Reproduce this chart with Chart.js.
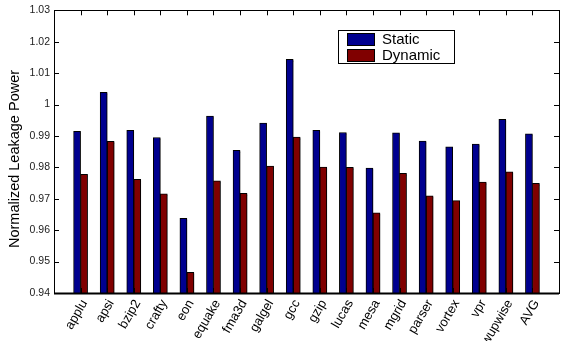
<!DOCTYPE html>
<html>
<head>
<meta charset="utf-8">
<script src="https://cdn.jsdelivr.net/npm/chart.js@4/dist/chart.umd.min.js"></script>
<style>
  html, body { margin: 0; padding: 0; background: #fff; }
  #wrap { width: 561px; height: 341px; }
</style>
</head>
<body>
<div id="wrap"><canvas id="leakage-chart"></canvas></div>
<script>
// benchmark names along the x axis
var categories = ['applu', 'apsi', 'bzip2', 'crafty', 'eon', 'equake', 'fma3d', 'galgel', 'gcc',
                  'gzip', 'lucas', 'mesa', 'mgrid', 'parser', 'vortex', 'vpr', 'wupwise', 'AVG'];

// normalized leakage power
var staticPower  = [0.9915, 1.0039, 0.9918, 0.9895, 0.9638, 0.9963, 0.9854, 0.9941, 1.0144,
                    0.9918, 0.9911, 0.9798, 0.9910, 0.9884, 0.9865, 0.9874, 0.9953, 0.9907];
var dynamicPower = [0.9778, 0.9883, 0.9762, 0.9716, 0.9466, 0.9757, 0.9717, 0.9804, 0.9896,
                    0.9801, 0.9800, 0.9655, 0.9781, 0.9709, 0.9694, 0.9753, 0.9786, 0.9749];

var seriesNames = ['Static', 'Dynamic'];
var yTitle = 'Normalized Leakage Power';
var yMin = 0.94, yMax = 1.03, yStep = 0.01;

var FONT = "'Liberation Sans', Arial, Helvetica, sans-serif";
var colors = ['#00008f', '#800000'];

function toPoints(values) {
    return values.map(function (v, i) { return { x: i + 1, y: v }; });
}

// gray drop shadow like the matlab bars
var shadowPlugin = {
    id: 'barShadow',
    beforeDatasetsDraw: function (chart) {
        var ctx = chart.ctx;
        ctx.save();
        ctx.shadowColor = 'rgba(0,0,0,0.35)';
        ctx.shadowOffsetX = 2;
        ctx.shadowOffsetY = 1;
        ctx.shadowBlur = 0;
    },
    afterDatasetsDraw: function (chart) {
        chart.ctx.restore();
    }
};

// box around the axes with inward tick marks, y title and the legend
var boxPlugin = {
    id: 'axesBox',
    afterDraw: function (chart) {
        var ctx = chart.ctx, a = chart.chartArea;
        var x = chart.scales.x, y = chart.scales.y;
        var len = 5;
        ctx.save();
        ctx.strokeStyle = '#000';
        ctx.lineWidth = 1;
        ctx.beginPath();
        y.ticks.forEach(function (t) {
            var py = Math.round(y.getPixelForValue(t.value)) + 0.5;
            ctx.moveTo(a.left, py); ctx.lineTo(a.left + len, py);
            ctx.moveTo(a.right, py); ctx.lineTo(a.right - len, py);
        });
        x.ticks.forEach(function (t) {
            var px = Math.round(x.getPixelForValue(t.value)) + 0.5;
            ctx.moveTo(px, a.top); ctx.lineTo(px, a.top + len);
            ctx.moveTo(px, a.bottom); ctx.lineTo(px, a.bottom - len);
        });
        ctx.stroke();
        ctx.strokeRect(Math.round(a.left) + 0.5, Math.round(a.top) + 0.5,
                       Math.round(a.right - a.left), Math.round(a.bottom - a.top));
        ctx.lineWidth = 2;
        ctx.beginPath();
        ctx.moveTo(a.left, Math.round(a.bottom) + 0.5);
        ctx.lineTo(a.right, Math.round(a.bottom) + 0.5);
        ctx.stroke();

        // y axis title, sitting a little below the middle like the original
        ctx.save();
        ctx.translate(15, 159);
        ctx.rotate(-Math.PI / 2);
        ctx.font = '14.5px ' + FONT;
        ctx.fillStyle = '#000';
        ctx.textAlign = 'center';
        ctx.textBaseline = 'middle';
        ctx.fillText(yTitle, 0, 0);
        ctx.restore();

        var lx = 338, ly = 30, lw = 116, lh = 33;
        ctx.fillStyle = '#fff';
        ctx.fillRect(lx, ly, lw, lh);
        ctx.lineWidth = 1;
        ctx.strokeRect(lx + 0.5, ly + 0.5, lw, lh);
        ctx.font = '15px ' + FONT;
        ctx.textBaseline = 'middle';
        chart.data.datasets.forEach(function (ds, i) {
            var sy = ly + 3 + i * 16;
            ctx.fillStyle = ds.backgroundColor;
            ctx.fillRect(lx + 9, sy, 27, 12);
            ctx.strokeStyle = '#000';
            ctx.strokeRect(lx + 9.5, sy + 0.5, 27, 12);
            ctx.fillStyle = '#000';
            ctx.fillText(ds.label, lx + 44, sy + 7);
        });
        ctx.restore();
    }
};

var context = document.getElementById('leakage-chart');
var config = {
    type: 'bar',
    data: {
        datasets: [{
            label: seriesNames[0],
            data: toPoints(staticPower),
            backgroundColor: colors[0],
            borderColor: '#000',
            borderWidth: 1,
            barThickness: 7
        }, {
            label: seriesNames[1],
            data: toPoints(dynamicPower),
            backgroundColor: colors[1],
            borderColor: '#000',
            borderWidth: 1,
            barThickness: 7
        }]
    },
    options: {
        responsive: true,
        maintainAspectRatio: false,
        animation: false,
        layout: { padding: { top: 10, right: 2, left: 0, bottom: 0 } },
        plugins: {
            legend: { display: false },
            tooltip: { enabled: false }
        },
        scales: {
            x: {
                type: 'linear',
                offset: false,
                min: 0,
                max: categories.length + 1,
                grid: { display: false, drawTicks: false, offset: false },
                border: { display: false },
                afterBuildTicks: function (axis) {
                    axis.ticks = categories.map(function (c, i) { return { value: i + 1 }; });
                },
                afterFit: function (scale) {
                    scale.height = 48;
                    scale.paddingLeft = 0;
                    scale.paddingRight = 0;
                },
                ticks: {
                    autoSkip: false,
                    minRotation: 60,
                    maxRotation: 60,
                    padding: 4,
                    labelOffset: 4,
                    color: '#000',
                    font: { family: FONT, size: 13 },
                    callback: function (value) { return categories[value - 1]; }
                }
            },
            y: {
                min: yMin,
                max: yMax,
                grid: { display: false, drawTicks: false },
                border: { display: false },
                afterFit: function (scale) { scale.width = 54; },
                ticks: {
                    stepSize: yStep,
                    padding: 4,
                    color: '#222',
                    font: { family: FONT, size: 10.5 },
                    callback: function (value) { return String(parseFloat(value.toFixed(2))); }
                }
            }
        }
    },
    plugins: [shadowPlugin, boxPlugin]
};
new Chart(context, config);
</script>
</body>
</html>
